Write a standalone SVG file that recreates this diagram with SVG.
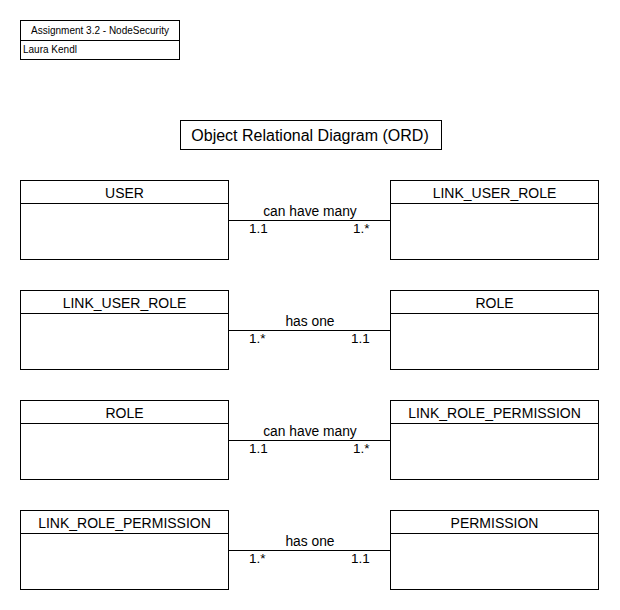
<svg xmlns="http://www.w3.org/2000/svg" width="620" height="610" viewBox="0 0 620 610">
<style>
rect{fill:#fff;stroke:#000;stroke-width:1}
line{stroke:#000;stroke-width:1}
text{font-family:"Liberation Sans",Arial,sans-serif;fill:#000}
.t{font-size:14px;text-anchor:middle}
.l{font-size:13.5px}
.m{font-size:13.8px;text-anchor:middle}
.s{font-size:10px}
</style>
<rect x="0" y="0" width="620" height="610" style="stroke:none"/>
<g id="header">
<rect x="20.5" y="20.5" width="159" height="39"/>
<line x1="20.5" y1="40.5" x2="179.5" y2="40.5"/>
<text class="s" x="100" y="34" text-anchor="middle">Assignment 3.2 - NodeSecurity</text>
<text class="s" x="23" y="53">Laura Kendl</text>
</g>
<g id="title">
<rect x="180.5" y="120.5" width="261" height="29"/>
<text x="310" y="141" font-size="16" text-anchor="middle">Object Relational Diagram (ORD)</text>
</g>
<g id="user">
<rect x="20.5" y="180.5" width="208" height="79"/>
<line x1="20.5" y1="203.5" x2="228.5" y2="203.5"/>
<text class="t" x="124.5" y="198">USER</text>
</g>
<g id="link_user_role_1">
<rect x="390.5" y="180.5" width="208" height="79"/>
<line x1="390.5" y1="203.5" x2="598.5" y2="203.5"/>
<text class="t" x="494.5" y="198">LINK_USER_ROLE</text>
</g>
<g id="link_user_role_2">
<rect x="20.5" y="290.5" width="208" height="79"/>
<line x1="20.5" y1="313.5" x2="228.5" y2="313.5"/>
<text class="t" x="124.5" y="308">LINK_USER_ROLE</text>
</g>
<g id="role_1">
<rect x="390.5" y="290.5" width="208" height="79"/>
<line x1="390.5" y1="313.5" x2="598.5" y2="313.5"/>
<text class="t" x="494.5" y="308">ROLE</text>
</g>
<g id="role_2">
<rect x="20.5" y="400.5" width="208" height="79"/>
<line x1="20.5" y1="423.5" x2="228.5" y2="423.5"/>
<text class="t" x="124.5" y="418">ROLE</text>
</g>
<g id="link_role_permission_1">
<rect x="390.5" y="400.5" width="208" height="79"/>
<line x1="390.5" y1="423.5" x2="598.5" y2="423.5"/>
<text class="t" x="494.5" y="418">LINK_ROLE_PERMISSION</text>
</g>
<g id="link_role_permission_2">
<rect x="20.5" y="510.5" width="208" height="79"/>
<line x1="20.5" y1="533.5" x2="228.5" y2="533.5"/>
<text class="t" x="124.5" y="528">LINK_ROLE_PERMISSION</text>
</g>
<g id="permission">
<rect x="390.5" y="510.5" width="208" height="79"/>
<line x1="390.5" y1="533.5" x2="598.5" y2="533.5"/>
<text class="t" x="494.5" y="528">PERMISSION</text>
</g>
<g id="connectors">
<line x1="228.5" y1="220.5" x2="390.5" y2="220.5"/>
<text class="m" x="310" y="216">can have many</text>
<text class="l" x="249" y="233">1.1</text>
<text class="l" x="353" y="233">1.*</text>
<line x1="228.5" y1="330.5" x2="390.5" y2="330.5"/>
<text class="m" x="310" y="326">has one</text>
<text class="l" x="249" y="343">1.*</text>
<text class="l" x="351" y="343">1.1</text>
<line x1="228.5" y1="440.5" x2="390.5" y2="440.5"/>
<text class="m" x="310" y="436">can have many</text>
<text class="l" x="249" y="453">1.1</text>
<text class="l" x="353" y="453">1.*</text>
<line x1="228.5" y1="550.5" x2="390.5" y2="550.5"/>
<text class="m" x="310" y="546">has one</text>
<text class="l" x="249" y="563">1.*</text>
<text class="l" x="351" y="563">1.1</text>
</g>
</svg>
